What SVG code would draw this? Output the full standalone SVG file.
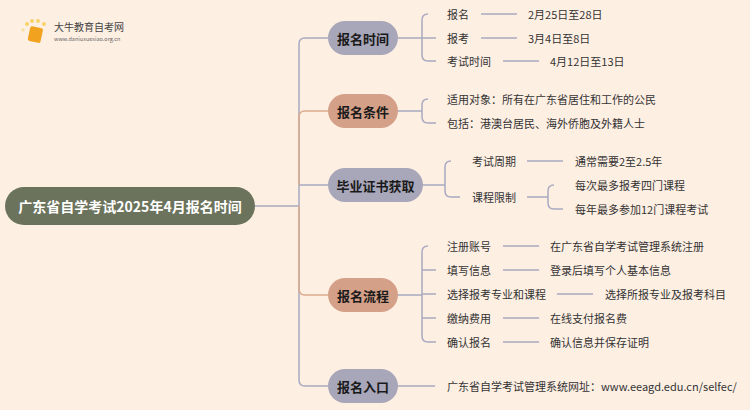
<svg xmlns="http://www.w3.org/2000/svg" width="750" height="410" viewBox="0 0 750 410">
<style>
text{font-family:"Noto Sans CJK SC","Noto Sans",sans-serif;}
.lf{font-size:11px;fill:#333;dominant-baseline:central}
.br{font-size:13px;font-weight:bold;fill:#1a1a1a;text-anchor:middle;dominant-baseline:central}
.g{fill:none;stroke:#a9aac1;stroke-width:1.5}
.o{fill:none;stroke:#dcaa8f;stroke-width:1.5}
</style>
<rect width="750" height="410" fill="#feefe3"/>
<g id="logo">
<circle cx="27" cy="24" r="2" fill="#f7d36a"/><circle cx="32" cy="21" r="2" fill="#f7d36a"/><circle cx="38" cy="21" r="2" fill="#f7d36a"/><circle cx="44" cy="24" r="2" fill="#f7d36a"/><circle cx="23" cy="30" r="1.6" fill="#f9e09a"/>
<rect x="29" y="27" width="13" height="15" rx="2" fill="#f1a21e" transform="rotate(12 35 34)"/>
<text x="54" y="31" style="font-size:10px;fill:#444">大牛教育自考网</text>
<text x="54" y="41" style="font-size:5.5px;fill:#666">www.daniuxuexiao.org.cn</text>
</g>
<g id="connectors">
<path class="g" d="M255 206H299M299 206V44Q299 38 305 38H328M299 206V380Q299 386 305 386H328M299 185H328"/>
<path class="o" d="M299 185V117Q299 111 305 111H328M299 206V289Q299 295 305 295H328"/>
<path class="g" d="M398 38H422M428 14Q422 14 422 20V55Q422 61 428 61H436M422 38H436M481 14H517M481 38H517M503 61H539"/>
<path class="g" d="M398 111H422M428 99Q422 99 422 105V117Q422 123 428 123H436"/>
<path class="g" d="M423 185H445M451 161Q445 161 445 167V191Q445 197 451 197H460M527 161H563M527 197H548M554 185Q548 185 548 191V203Q548 209 554 209H563"/>
<path class="g" d="M398 295H422M428 246Q422 246 422 252V336Q422 342 428 342H436M422 270H436M422 294H436M422 318H436M503 246H539M503 270H539M557 294H593M503 318H539M503 342H539"/>
<path class="g" d="M398 386H435"/>
</g>
<g id="root"><rect x="5" y="187" width="250" height="38" rx="19" fill="#6b735c"/><text x="130" y="206" style="font-size:14px;font-weight:bold;fill:#fff;text-anchor:middle;dominant-baseline:central">广东省自学考试2025年4月报名时间</text></g>
<g id="b1"><rect x="328" y="21" width="70" height="34" rx="17" fill="#a8a7b9"/><text class="br" x="363" y="38">报名时间</text></g>
<g id="b2"><rect x="328" y="94" width="70" height="34" rx="17" fill="#d5a088"/><text class="br" x="363" y="111">报名条件</text></g>
<g id="b3"><rect x="328" y="168" width="95" height="34" rx="17" fill="#a8a7b9"/><text class="br" x="375.5" y="185">毕业证书获取</text></g>
<g id="b4"><rect x="328" y="278" width="70" height="34" rx="17" fill="#d5a088"/><text class="br" x="363" y="295">报名流程</text></g>
<g id="b5"><rect x="328" y="369" width="70" height="34" rx="17" fill="#a8a7b9"/><text class="br" x="363" y="386">报名入口</text></g>
<g id="leaves">
<text class="lf" x="447" y="14">报名</text><text class="lf" x="528" y="14">2月25日至28日</text>
<text class="lf" x="447" y="38">报考</text><text class="lf" x="528" y="38">3月4日至8日</text>
<text class="lf" x="447" y="61">考试时间</text><text class="lf" x="550" y="61">4月12日至13日</text>
<text class="lf" x="447" y="99">适用对象：所有在广东省居住和工作的公民</text>
<text class="lf" x="447" y="123">包括：港澳台居民、海外侨胞及外籍人士</text>
<text class="lf" x="472" y="161">考试周期</text><text class="lf" x="575" y="161">通常需要2至2.5年</text>
<text class="lf" x="472" y="197">课程限制</text><text class="lf" x="575" y="185">每次最多报考四门课程</text><text class="lf" x="575" y="209">每年最多参加12门课程考试</text>
<text class="lf" x="447" y="246">注册账号</text><text class="lf" x="550" y="246">在广东省自学考试管理系统注册</text>
<text class="lf" x="447" y="270">填写信息</text><text class="lf" x="550" y="270">登录后填写个人基本信息</text>
<text class="lf" x="447" y="294">选择报考专业和课程</text><text class="lf" x="605" y="294">选择所报专业及报考科目</text>
<text class="lf" x="447" y="318">缴纳费用</text><text class="lf" x="550" y="318">在线支付报名费</text>
<text class="lf" x="447" y="342">确认报名</text><text class="lf" x="550" y="342">确认信息并保存证明</text>
<text class="lf" x="447" y="386">广东省自学考试管理系统网址：www.eeagd.edu.cn/selfec/</text>
</g>
</svg>
